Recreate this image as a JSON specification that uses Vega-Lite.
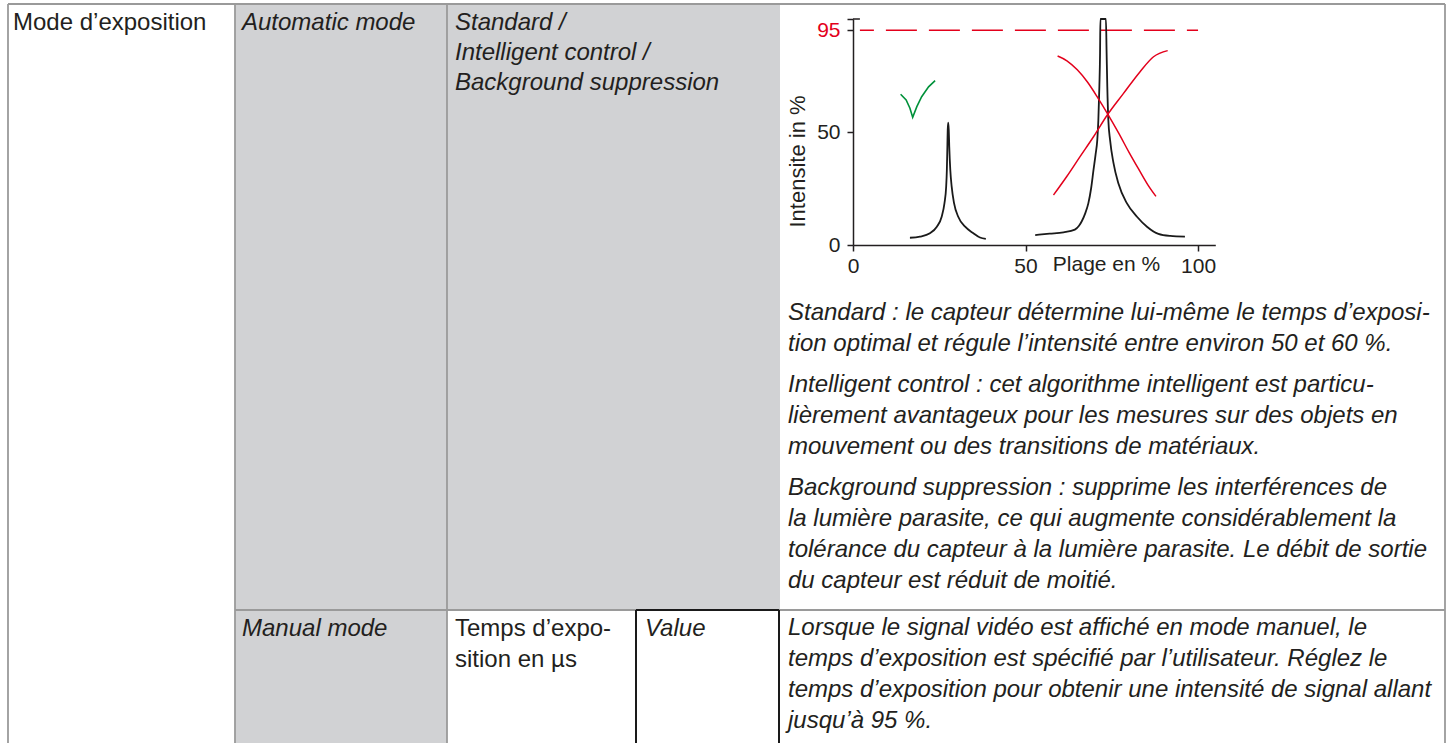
{
  "$schema": "https://vega.github.io/schema/vega-lite/v6.json",
  "width": 1448,
  "height": 743,
  "autosize": "none",
  "padding": 0,
  "background": "white",
  "config": {
    "view": {"stroke": null},
    "font": "Liberation Sans",
    "axis": {"grid": false}
  },
  "resolve": {"scale": {"x": "independent", "y": "independent"}},
  "layer": [
    {
      "layer": [
        {
          "data": {"values": [
            {"x1": 235, "x2": 447, "y1": 4, "y2": 743},
            {"x1": 447, "x2": 780, "y1": 4, "y2": 610}
          ]},
          "mark": {"type": "rect", "fill": "#d1d2d4"},
          "encoding": {
            "x": {"field": "x1", "type": "quantitative", "scale": {"domain": [0, 1448], "nice": false, "zero": false}, "axis": null},
            "x2": {"field": "x2"},
            "y": {"field": "y1", "type": "quantitative", "scale": {"domain": [0, 743], "reverse": true, "nice": false, "zero": false}, "axis": null},
            "y2": {"field": "y2"}
          }
        },
        {
          "data": {"values": [
            {"x1": 8, "x2": 1445, "y1": 4, "y2": 4},
            {"x1": 8, "x2": 8, "y1": 4, "y2": 743},
            {"x1": 235, "x2": 235, "y1": 4, "y2": 743},
            {"x1": 447, "x2": 447, "y1": 4, "y2": 743},
            {"x1": 1445, "x2": 1445, "y1": 4, "y2": 743},
            {"x1": 235, "x2": 1445, "y1": 610, "y2": 610}
          ]},
          "mark": {"type": "rule", "stroke": "#9a9a9a", "strokeWidth": 1.8},
          "encoding": {
            "x": {"field": "x1", "type": "quantitative", "scale": {"domain": [0, 1448], "nice": false, "zero": false}, "axis": null},
            "x2": {"field": "x2"},
            "y": {"field": "y1", "type": "quantitative", "scale": {"domain": [0, 743], "reverse": true, "nice": false, "zero": false}, "axis": null},
            "y2": {"field": "y2"}
          }
        },
        {
          "data": {"values": [
            {"x1": 636, "x2": 636, "y1": 610, "y2": 743},
            {"x1": 779, "x2": 779, "y1": 610, "y2": 743},
            {"x1": 636, "x2": 779, "y1": 610, "y2": 610}
          ]},
          "mark": {"type": "rule", "stroke": "#1a1a1a", "strokeWidth": 2},
          "encoding": {
            "x": {"field": "x1", "type": "quantitative", "scale": {"domain": [0, 1448], "nice": false, "zero": false}, "axis": null},
            "x2": {"field": "x2"},
            "y": {"field": "y1", "type": "quantitative", "scale": {"domain": [0, 743], "reverse": true, "nice": false, "zero": false}, "axis": null},
            "y2": {"field": "y2"}
          }
        },
        {
          "data": {"values": [
            {"x": 13, "y": 30, "t": "Mode d’exposition"},
            {"x": 455, "y": 636, "t": "Temps d’expo-"},
            {"x": 455, "y": 667, "t": "sition en µs"}
          ]},
          "mark": {"type": "text", "align": "left", "baseline": "alphabetic", "fontSize": 24, "color": "#231f20"},
          "encoding": {
            "x": {"field": "x", "type": "quantitative", "scale": {"domain": [0, 1448], "nice": false, "zero": false}, "axis": null},
            "y": {"field": "y", "type": "quantitative", "scale": {"domain": [0, 743], "reverse": true, "nice": false, "zero": false}, "axis": null},
            "text": {"field": "t"}
          }
        },
        {
          "data": {"values": [
            {"x": 242, "y": 30, "t": "Automatic mode"},
            {"x": 455, "y": 30, "t": "Standard /"},
            {"x": 455, "y": 60, "t": "Intelligent control /"},
            {"x": 455, "y": 90, "t": "Background suppression"},
            {"x": 242, "y": 636, "t": "Manual mode"},
            {"x": 645, "y": 636, "t": "Value"},
            {"x": 788, "y": 320, "t": "Standard : le capteur détermine lui-même le temps d’exposi-"},
            {"x": 788, "y": 351, "t": "tion optimal et régule l’intensité entre environ 50 et 60 %."},
            {"x": 788, "y": 392, "t": "Intelligent control : cet algorithme intelligent est particu-"},
            {"x": 788, "y": 423, "t": "lièrement avantageux pour les mesures sur des objets en"},
            {"x": 788, "y": 454, "t": "mouvement ou des transitions de matériaux."},
            {"x": 788, "y": 495, "t": "Background suppression : supprime les interférences de"},
            {"x": 788, "y": 526, "t": "la lumière parasite, ce qui augmente considérablement la"},
            {"x": 788, "y": 557, "t": "tolérance du capteur à la lumière parasite. Le débit de sortie"},
            {"x": 788, "y": 588, "t": "du capteur est réduit de moitié."},
            {"x": 788, "y": 635, "t": "Lorsque le signal vidéo est affiché en mode manuel, le"},
            {"x": 788, "y": 666, "t": "temps d’exposition est spécifié par l’utilisateur. Réglez le"},
            {"x": 788, "y": 697, "t": "temps d’exposition pour obtenir une intensité de signal allant"},
            {"x": 788, "y": 728, "t": "jusqu’à 95 %."}
          ]},
          "mark": {"type": "text", "align": "left", "baseline": "alphabetic", "fontSize": 24, "fontStyle": "italic", "color": "#231f20"},
          "encoding": {
            "x": {"field": "x", "type": "quantitative", "scale": {"domain": [0, 1448], "nice": false, "zero": false}, "axis": null},
            "y": {"field": "y", "type": "quantitative", "scale": {"domain": [0, 743], "reverse": true, "nice": false, "zero": false}, "axis": null},
            "text": {"field": "t"}
          }
        }
      ]
    },
    {
      "encoding": {
        "x": {
          "field": "plage", "type": "quantitative",
          "scale": {"domain": [0, 105], "range": [853, 1215.3], "nice": false, "zero": false},
          "axis": {
            "orient": "bottom", "offset": -498, "values": [0, 50, 100],
            "domainColor": "#231f20", "domainWidth": 1.5, "tickColor": "#231f20", "tickWidth": 1.5, "tickSize": 6,
            "labelFont": "Liberation Sans", "labelFontSize": 21, "labelColor": "#231f20", "labelPadding": 4,
            "labelFlush": false, "labelOverlap": false, "labelBaseline": "top",
            "title": "Plage en %", "titleFont": "Liberation Sans", "titleFontSize": 21, "titleFontWeight": "normal", "titleColor": "#231f20",
            "titleX": 1106, "titleY": 25, "titleAlign": "center", "titleBaseline": "alphabetic", "titleAnchor": null
          }
        },
        "y": {
          "field": "intens", "type": "quantitative",
          "scale": {"domain": [0, 100], "range": [245, 19], "nice": false, "zero": false},
          "axis": {
            "orient": "left", "offset": -853, "values": [0, 50, 95, 100],
            "labelExpr": "datum.value == 100 ? '' : datum.label",
            "domainColor": "#231f20", "domainWidth": 1.5, "tickColor": "#231f20", "tickWidth": 1.5, "tickSize": 6,
            "labelFont": "Liberation Sans", "labelFontSize": 21, "labelPadding": 7,
            "labelColor": {"condition": {"test": "datum.value == 95", "value": "#e3001b"}, "value": "#231f20"},
            "labelFlush": false, "labelOverlap": false,
            "title": "Intensite in %", "titleFont": "Liberation Sans", "titleFontSize": 22, "titleFontWeight": "normal", "titleColor": "#231f20",
            "titleX": -56, "titleY": 161, "titleAngle": 270, "titleAlign": "center", "titleBaseline": "middle", "titleAnchor": null
          }
        }
      },
      "layer": [
        {
          "data": {"values": [{"plage": 0, "plage_end": 2, "intens": 100}]},
          "mark": {"type": "rule", "stroke": "#231f20", "strokeWidth": 1.5},
          "encoding": {"x2": {"field": "plage_end"}}
        },
        {
          "data": {"values": [{"plage": 2, "plage_end": 100, "intens": 95}]},
          "mark": {"type": "rule", "stroke": "#e3001b", "strokeWidth": 1.5, "strokeDash": [31, 12], "strokeDashOffset": 17},
          "encoding": {"x2": {"field": "plage_end"}}
        },
        {
          "data": {"values": [
            {"serie": "p1", "i": 1, "plage": 16.5, "intens": 3.2},
            {"serie": "p1", "i": 2, "plage": 19.4, "intens": 3.7},
            {"serie": "p1", "i": 3, "plage": 22.3, "intens": 5.2},
            {"serie": "p1", "i": 4, "plage": 24.3, "intens": 8.1},
            {"serie": "p1", "i": 5, "plage": 25.7, "intens": 12.5},
            {"serie": "p1", "i": 6, "plage": 26.5, "intens": 18.4},
            {"serie": "p1", "i": 7, "plage": 27.0, "intens": 25.8},
            {"serie": "p1", "i": 8, "plage": 27.2, "intens": 33.2},
            {"serie": "p1", "i": 9, "plage": 27.35, "intens": 43.5},
            {"serie": "p1", "i": 10, "plage": 27.45, "intens": 50.9},
            {"serie": "p1", "i": 11, "plage": 27.6, "intens": 54.1},
            {"serie": "p1", "i": 12, "plage": 27.75, "intens": 50.9},
            {"serie": "p1", "i": 13, "plage": 27.9, "intens": 43.5},
            {"serie": "p1", "i": 14, "plage": 28.2, "intens": 33.2},
            {"serie": "p1", "i": 15, "plage": 28.6, "intens": 25.8},
            {"serie": "p1", "i": 16, "plage": 29.3, "intens": 18.4},
            {"serie": "p1", "i": 17, "plage": 30.5, "intens": 12.5},
            {"serie": "p1", "i": 18, "plage": 32.5, "intens": 8.1},
            {"serie": "p1", "i": 19, "plage": 34.9, "intens": 5.2},
            {"serie": "p1", "i": 20, "plage": 36.8, "intens": 3.3},
            {"serie": "p1", "i": 21, "plage": 38.5, "intens": 2.7},
            {"serie": "p2", "i": 1, "plage": 52.8, "intens": 4.4},
            {"serie": "p2", "i": 2, "plage": 57.0, "intens": 5.0},
            {"serie": "p2", "i": 3, "plage": 61.0, "intens": 5.6},
            {"serie": "p2", "i": 4, "plage": 64.3, "intens": 6.8},
            {"serie": "p2", "i": 5, "plage": 65.5, "intens": 8.5},
            {"serie": "p2", "i": 6, "plage": 66.3, "intens": 10.5},
            {"serie": "p2", "i": 7, "plage": 67.3, "intens": 14.0},
            {"serie": "p2", "i": 8, "plage": 68.2, "intens": 18.4},
            {"serie": "p2", "i": 9, "plage": 69.0, "intens": 25.0},
            {"serie": "p2", "i": 10, "plage": 69.7, "intens": 33.2},
            {"serie": "p2", "i": 11, "plage": 70.3, "intens": 40.0},
            {"serie": "p2", "i": 12, "plage": 70.8, "intens": 46.5},
            {"serie": "p2", "i": 13, "plage": 71.1, "intens": 55.0},
            {"serie": "p2", "i": 14, "plage": 71.4, "intens": 70.0},
            {"serie": "p2", "i": 15, "plage": 71.6, "intens": 85.0},
            {"serie": "p2", "i": 16, "plage": 71.7, "intens": 100.0},
            {"serie": "p2", "i": 17, "plage": 73.3, "intens": 100.0},
            {"serie": "p2", "i": 18, "plage": 73.5, "intens": 85.0},
            {"serie": "p2", "i": 19, "plage": 73.7, "intens": 70.0},
            {"serie": "p2", "i": 20, "plage": 74.0, "intens": 55.3},
            {"serie": "p2", "i": 21, "plage": 74.5, "intens": 46.5},
            {"serie": "p2", "i": 22, "plage": 75.5, "intens": 36.2},
            {"serie": "p2", "i": 23, "plage": 76.9, "intens": 27.3},
            {"serie": "p2", "i": 24, "plage": 79.4, "intens": 18.4},
            {"serie": "p2", "i": 25, "plage": 82.3, "intens": 12.5},
            {"serie": "p2", "i": 26, "plage": 85.2, "intens": 8.1},
            {"serie": "p2", "i": 27, "plage": 88.5, "intens": 4.9},
            {"serie": "p2", "i": 28, "plage": 91.9, "intens": 4.0},
            {"serie": "p2", "i": 29, "plage": 96.2, "intens": 3.7}
          ]},
          "mark": {"type": "line", "stroke": "#1a1a1a", "strokeWidth": 1.8, "interpolate": "monotone"},
          "encoding": {"detail": {"field": "serie", "type": "nominal"}, "order": {"field": "i", "type": "quantitative"}}
        },
        {
          "data": {"values": [
            {"serie": "A", "i": 1, "plage": 59.3, "intens": 83.6},
            {"serie": "A", "i": 2, "plage": 62.0, "intens": 81.5},
            {"serie": "A", "i": 3, "plage": 65.0, "intens": 77.5},
            {"serie": "A", "i": 4, "plage": 68.0, "intens": 72.0},
            {"serie": "A", "i": 5, "plage": 71.0, "intens": 65.0},
            {"serie": "A", "i": 6, "plage": 74.0, "intens": 57.5},
            {"serie": "A", "i": 7, "plage": 77.0, "intens": 49.5},
            {"serie": "A", "i": 8, "plage": 80.0, "intens": 41.0},
            {"serie": "A", "i": 9, "plage": 83.0, "intens": 33.0},
            {"serie": "A", "i": 10, "plage": 85.5, "intens": 26.5},
            {"serie": "A", "i": 11, "plage": 87.8, "intens": 21.5},
            {"serie": "B", "i": 1, "plage": 58.1, "intens": 22.1},
            {"serie": "B", "i": 2, "plage": 61.9, "intens": 30.2},
            {"serie": "B", "i": 3, "plage": 65.8, "intens": 39.1},
            {"serie": "B", "i": 4, "plage": 69.7, "intens": 47.9},
            {"serie": "B", "i": 5, "plage": 73.6, "intens": 57.3},
            {"serie": "B", "i": 6, "plage": 78.4, "intens": 67.1},
            {"serie": "B", "i": 7, "plage": 83.2, "intens": 76.7},
            {"serie": "B", "i": 8, "plage": 87.1, "intens": 83.3},
            {"serie": "B", "i": 9, "plage": 91.2, "intens": 86.0}
          ]},
          "mark": {"type": "line", "stroke": "#e3001b", "strokeWidth": 1.5, "interpolate": "monotone"},
          "encoding": {"detail": {"field": "serie", "type": "nominal"}, "order": {"field": "i", "type": "quantitative"}}
        },
        {
          "data": {"values": [
            {"i": 1, "plage": 13.8, "intens": 66.7},
            {"i": 2, "plage": 15.4, "intens": 64.2},
            {"i": 3, "plage": 16.5, "intens": 60.5},
            {"i": 4, "plage": 17.3, "intens": 56.5},
            {"i": 5, "plage": 18.5, "intens": 61.2},
            {"i": 6, "plage": 19.9, "intens": 65.6},
            {"i": 7, "plage": 21.9, "intens": 70.0},
            {"i": 8, "plage": 23.8, "intens": 72.7}
          ]},
          "mark": {"type": "line", "stroke": "#00913a", "strokeWidth": 1.6, "interpolate": "linear"},
          "encoding": {"order": {"field": "i", "type": "quantitative"}}
        }
      ]
    }
  ]
}
